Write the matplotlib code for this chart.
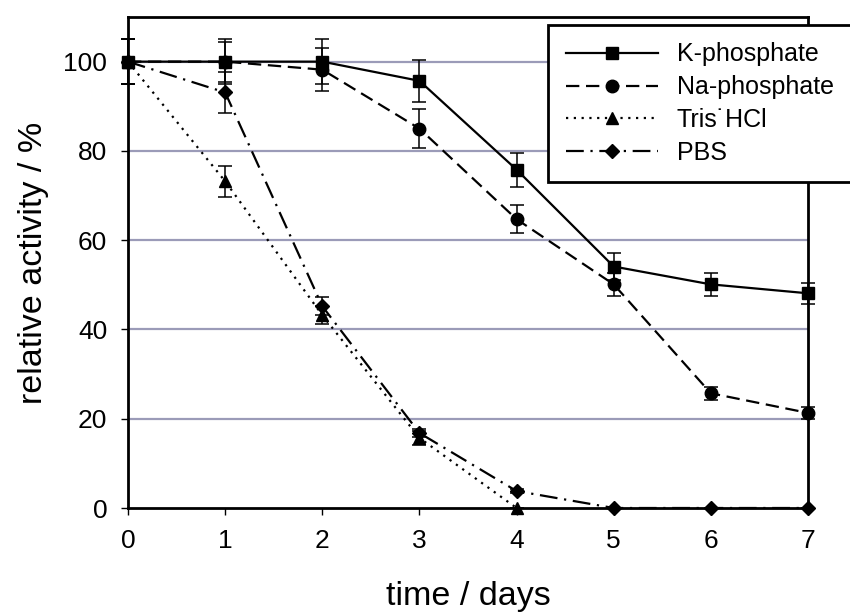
import matplotlib
matplotlib.use("Agg")
import matplotlib.pyplot as plt
from matplotlib.lines import Line2D

plt.rcParams['font.family'] = ['Liberation Sans', 'DejaVu Sans']

days = [0, 1, 2, 3, 4, 5, 6, 7]
k_phos = [100, 100, 100, 95.7, 75.8, 54.1, 50.1, 48.1]
k_err = [5, 5, 5, 4.7, 3.8, 3.0, 2.6, 2.4]
na_phos = [100, 100, 98.2, 85.0, 64.7, 50.1, 25.7, 21.3]
na_err = [5, 4.5, 4.8, 4.3, 3.2, 2.5, 1.5, 1.3]
tris = [100, 73.2, 43.2, 15.7, 0]
tris_err = [5, 3.5, 2.0, 1.5, 0]
pbs = [100, 93.1, 45.2, 16.8, 3.8, 0, 0, 0]
pbs_err = [5, 4.5, 2.0, 1.0, 0.5, 0, 0, 0]
labels = ["K-phosphate", "Na-phosphate", "Tris\u02d9HCl", "PBS"]

styles = [
    dict(ls='-', marker='s', ms=8.5),
    dict(ls=(0, (6, 3)), marker='o', ms=9),
    dict(ls=(0, (1, 2.5)), marker='^', ms=9),
    dict(ls=(0, (8, 3, 1, 3)), marker='D', ms=7.5),
]

fig = plt.figure(figsize=(8.5, 6.12), dpi=100)
ax = fig.add_axes([128/850, 1-508/612, 680/850, 491/612])

for y in [20, 40, 60, 80, 100]:
    ax.axhline(y, color='#9b9bb8', lw=1.6, zorder=0)

common = dict(color='black', lw=1.6, ecolor='black', elinewidth=1.1, capsize=5, capthick=1.1, clip_on=False)
series = [(days, k_phos, k_err), (days, na_phos, na_err),
          (days[:len(tris)], tris, tris_err), (days, pbs, pbs_err)]
for (xs, ys, es), st, lab in zip(series, styles, labels):
    ax.errorbar(xs, ys, yerr=es, label=lab, **st, **common)

ax.set_xlim(0, 7)
ax.set_ylim(0, 110)
ax.set_xticks(days)
ax.set_yticks([0, 20, 40, 60, 80, 100])
ax.tick_params(axis='both', labelsize=19, width=1, length=5, direction='out')
ax.tick_params(axis='x', pad=10)
ax.tick_params(axis='y', pad=10)
for s in ax.spines.values():
    s.set_linewidth(2)
ax.set_xlabel("time / days", fontsize=24.5, labelpad=20)
ax.set_ylabel("relative activity / %", fontsize=24.5, labelpad=10)

handles = [Line2D([], [], color='black', lw=1.6, **st) for st in styles]
leg = fig.legend(handles, labels, loc='upper left', bbox_to_anchor=(548/850, 1-25/612),
                 fontsize=18, frameon=True, fancybox=False, edgecolor='black',
                 handlelength=3.7, borderpad=0.7, labelspacing=0.35, handletextpad=0.75,
                 borderaxespad=0, framealpha=1)
leg.get_frame().set_linewidth(2)

fig.savefig("out.png", dpi=100)
